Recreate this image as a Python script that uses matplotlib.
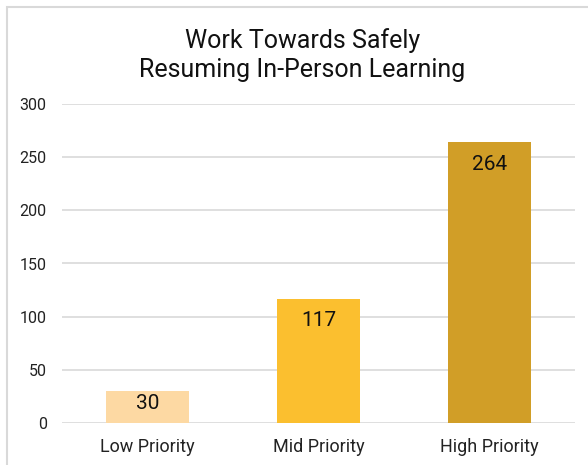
import matplotlib
matplotlib.use("Agg")
from matplotlib import pyplot as plt
from matplotlib.patches import Rectangle

plt.rcParams["font.family"] = ["Roboto", "DejaVu Sans"]

categories = ["Low Priority", "Mid Priority", "High Priority"]
values = [30, 117, 264]
colors = ["#fdd9a3", "#fbbf2f", "#d19e27"]
yticks = [0, 50, 100, 150, 200, 250, 300]

fig = plt.figure(figsize=(5.88, 4.65), dpi=100)

# light frame around the chart (runs off the right and bottom edges)
fig.patches.append(Rectangle((7 / 588, -0.1), 1.2, 1 - 7 / 465 + 0.1,
                             transform=fig.transFigure, fill=False,
                             edgecolor="#d9d9d9", linewidth=1.5))

ax = fig.add_axes([62 / 588, 1 - 423 / 465, (575 - 62) / 588, (423 - 104) / 465])
x = range(len(categories))
bars = ax.bar(x, values, width=0.485, color=colors, zorder=3)

for b, v in zip(bars, values):
    # short bars get the label closer to the top
    off = -9 if v > 50 else -2
    ax.annotate(str(v), (b.get_x() + b.get_width() / 2, v), xytext=(0, off),
                textcoords="offset points", ha="center", va="top",
                fontsize=15, color="#111111", zorder=4)

ax.set_xlim(-0.5, 2.5)
ax.set_ylim(0, 300)
ax.set_yticks(yticks)
ax.set_xticks(list(x))
ax.set_xticklabels(categories, fontsize=13, color="#222222")
ax.tick_params(axis="y", length=0, pad=11, labelsize=11.5, labelcolor="#222222")
ax.tick_params(axis="x", length=0, pad=11)
ax.grid(axis="y", color="#d9d9d9", linewidth=1.2, zorder=0)
for s in ax.spines.values():
    s.set_visible(False)

fig.text(0.514, 1 - 55 / 465, "Work Towards Safely\nResuming In-Person Learning",
         ha="center", va="center", fontsize=18, color="#111111", linespacing=1.3)

fig.savefig("out.png", dpi=100)
